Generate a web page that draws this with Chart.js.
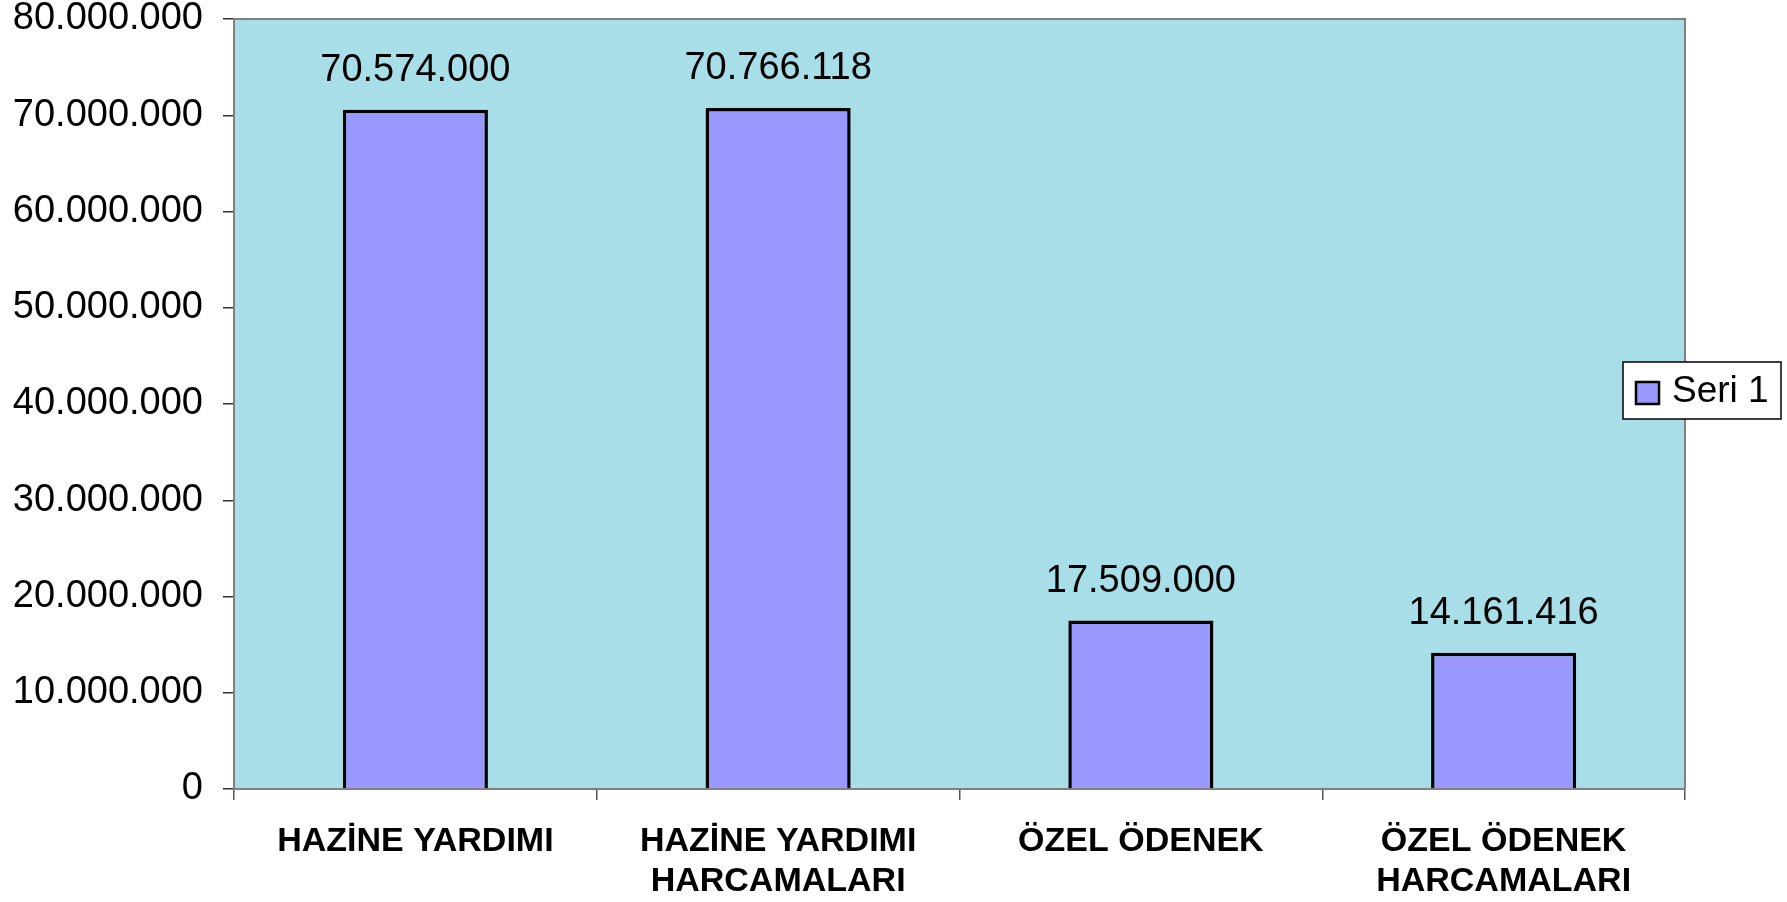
<!DOCTYPE html>
<html>
<head>
<meta charset="utf-8">
<script src="https://cdn.jsdelivr.net/npm/chart.js@4.4.1/dist/chart.umd.min.js"></script>
<style>
  html, body { margin: 0; padding: 0; background: #fff; }
  canvas { display: block; }
</style>
</head>
<body>
<canvas id="chart" width="1787" height="902"></canvas>
<script>
const categories = [
  ['HAZİNE YARDIMI'],
  ['HAZİNE YARDIMI', 'HARCAMALARI'],
  ['ÖZEL ÖDENEK'],
  ['ÖZEL ÖDENEK', 'HARCAMALARI'],
];
const seriesName = 'Seri 1';
const seriesValues = [70574000, 70766118, 17509000, 14161416];
const yMax = 80000000;
const yStep = 10000000;

const FONT = '"Liberation Sans", Arial, sans-serif';
const BAR_FILL = '#9999FF';
const PLOT_BG = '#A8DEE7';
const AXIS_GRAY = '#808080';

// 80000000 -> 80.000.000
function fmt(n) {
  return String(Math.round(n)).replace(/\B(?=(\d{3})+(?!\d))/g, '.');
}

const decor = {
  id: 'decor',
  beforeDraw(chart) {
    const { ctx, chartArea: a } = chart;
    ctx.save();
    ctx.fillStyle = PLOT_BG;
    ctx.fillRect(a.left, a.top, a.right - a.left, a.bottom - a.top);
    ctx.restore();
  },
  afterDraw(chart) {
    const { ctx, chartArea: a } = chart;
    ctx.save();
    // top and right frame
    ctx.strokeStyle = AXIS_GRAY;
    ctx.lineWidth = 2;
    ctx.beginPath();
    ctx.moveTo(a.left, a.top);
    ctx.lineTo(a.right, a.top);
    ctx.lineTo(a.right, a.bottom);
    ctx.stroke();

    // value labels above bars
    ctx.fillStyle = '#000';
    ctx.font = `38px ${FONT}`;
    ctx.textAlign = 'center';
    ctx.textBaseline = 'middle';
    const meta = chart.getDatasetMeta(0);
    meta.data.forEach((bar, i) => {
      ctx.fillText(fmt(chart.data.datasets[0].data[i]), bar.x, bar.y - 39);
    });

    // legend box
    const ds = chart.data.datasets[0];
    const lx = 1623, ly = 362, lw = 158, lh = 57;
    ctx.fillStyle = '#fff';
    ctx.fillRect(lx, ly, lw, lh);
    ctx.strokeStyle = '#000';
    ctx.lineWidth = 1.5;
    ctx.strokeRect(lx, ly, lw, lh);
    ctx.fillStyle = ds.backgroundColor;
    ctx.fillRect(lx + 13, ly + 20, 23, 22);
    ctx.lineWidth = 2.5;
    ctx.strokeRect(lx + 13, ly + 20, 23, 22);
    ctx.fillStyle = '#000';
    ctx.textAlign = 'left';
    ctx.font = `37px ${FONT}`;
    ctx.fillText(ds.label, lx + 49, ly + 30);
    ctx.restore();
  },
};

new Chart(document.getElementById('chart'), {
  type: 'bar',
  data: {
    labels: categories,
    datasets: [{
      label: seriesName,
      data: seriesValues,
      backgroundColor: BAR_FILL,
      borderColor: '#000',
      borderWidth: 3.5,
      categoryPercentage: 1,
      barPercentage: 0.4,
    }],
  },
  options: {
    responsive: false,
    animation: false,
    layout: { padding: { top: 0, right: 102, bottom: 0, left: 0 } },
    plugins: {
      legend: { display: false },
      tooltip: { enabled: false },
    },
    scales: {
      x: {
        grid: { drawOnChartArea: false, offset: true, tickLength: 11, color: '#555', lineWidth: 1.5 },
        border: { color: AXIS_GRAY, width: 2 },
        ticks: {
          color: '#000',
          padding: 22,
          maxRotation: 0,
          autoSkip: false,
          font: { family: FONT, size: 34, weight: 'bold', lineHeight: 40 / 34 },
        },
        afterFit(scale) { scale.height = 113; },
      },
      y: {
        min: 0,
        max: yMax,
        grid: { drawOnChartArea: false, tickLength: 11, color: '#333', lineWidth: 1.5 },
        border: { color: AXIS_GRAY, width: 2 },
        ticks: {
          stepSize: yStep,
          color: '#000',
          padding: 20,
          font: { family: FONT, size: 38, lineHeight: 1 },
          callback: (v) => fmt(v),
        },
        afterFit(scale) {
          scale.width = 234;
          scale.paddingTop = 19;
          scale.paddingBottom = 0;
        },
      },
    },
  },
  plugins: [decor],
});
</script>
</body>
</html>
